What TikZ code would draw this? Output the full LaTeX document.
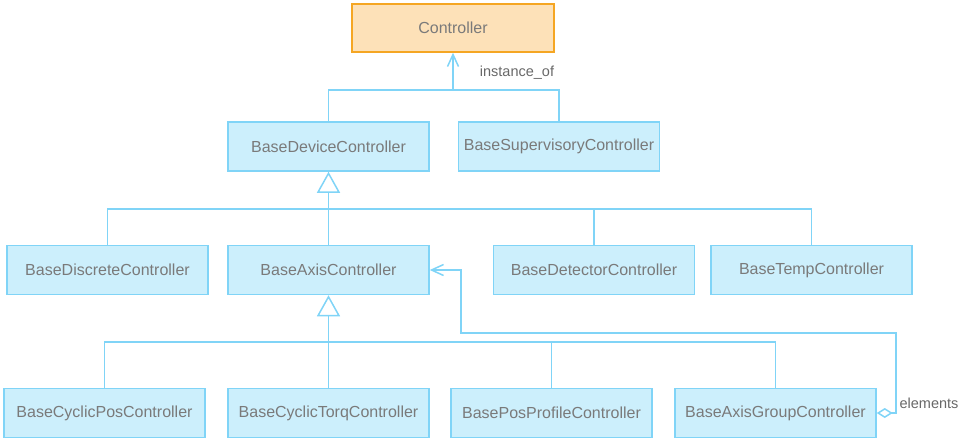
\documentclass[tikz,border=0pt]{standalone}
\usepackage{fontspec}
\setmainfont{Liberation Sans}
\usetikzlibrary{arrows.meta}
\definecolor{boxfill}{HTML}{CCEFFC}
\definecolor{boxline}{HTML}{80D4F7}
\definecolor{ctrlfill}{HTML}{FDE1B8}
\definecolor{ctrlline}{HTML}{F5A623}
\definecolor{txt}{HTML}{7A7A7A}
\begin{document}
\begin{tikzpicture}[x=1pt, y=-1pt, line width=1.5pt,
    every node/.style={rectangle, draw=boxline, fill=boxfill, minimum width=201pt, minimum height=49pt, inner sep=0pt, text=txt, font=\fontsize{16}{19}\selectfont},
    lbl/.style={draw=none, fill=none, minimum width=0pt, minimum height=0pt, text=txt!85!black, font=\fontsize{14.5}{17}\selectfont},
    link/.style={draw=boxline},
    inherit/.style={draw=boxline, -{Triangle[open, length=21pt, width=23pt, fill=white]}},
    assoc/.style={draw=boxline, {Diamond[open, length=16pt, width=10pt, fill=white]}-{Straight Barb[length=12pt, width=11pt]}}]
    \useasboundingbox (0,0) rectangle (967,440);
    % Top class
    \node[draw=ctrlline, fill=ctrlfill, minimum width=202pt, minimum height=48pt] (Ctrl) at (453,28) {Controller};

    % Second row (2 classes)
    \node (Dev) at (328.5,146.5) {BaseDeviceController};
    \node (Sup) at (559,146.5) {BaseSupervisoryController};

    % Third row (4 classes)
    \foreach \n/\x/\t in {Disc/107.5/BaseDiscreteController, Axis/328.5/BaseAxisController, Det/594/BaseDetectorController, Temp/811.5/BaseTempController} {
        \node (\n) at (\x,270) {\t};
    }

    % Fourth row (4 classes)
    \foreach \n/\x/\t in {CPos/104.5/BaseCyclicPosController, CTorq/328.5/BaseCyclicTorqController, Prof/551.5/BasePosProfileController, Grp/775.5/BaseAxisGroupController} {
        \node (\n) at (\x,413) {\t};
    }

    % Junctions of the connectors
    \coordinate (J1) at (453,90);
    \coordinate (J2) at (328.5,209);
    \coordinate (J3) at (328.5,342);
    \coordinate (A1) at (896,333);
    \coordinate (A2) at (461,333);

    % instance_of
    \draw[link] (Dev.north) |- (J1) -| (Sup.north);
    \draw[link, -{Straight Barb[length=12pt, width=11pt]}] (J1) -- (Ctrl.south);
    \node[lbl] (InstOf) at (517,73) {instance\_of};

    % Inheritance: third row to BaseDeviceController
    \foreach \n in {Disc, Axis, Det, Temp} {
        \draw[link] (\n.north) |- (J2);
    }
    \draw[inherit] (J2) -- (Dev.south);

    % Inheritance: fourth row to BaseAxisController
    \foreach \n in {CPos, CTorq, Prof, Grp} {
        \draw[link] (\n.north) |- (J3);
    }
    \draw[inherit] (J3) -- (Axis.south);

    % Aggregation: group holds axis controllers
    \draw[assoc] (Grp.east) -| (A1) -- (A2) |- (Axis.east);
    \node[lbl] (Elem) at (929,403) {elements};
\end{tikzpicture}
\end{document}
